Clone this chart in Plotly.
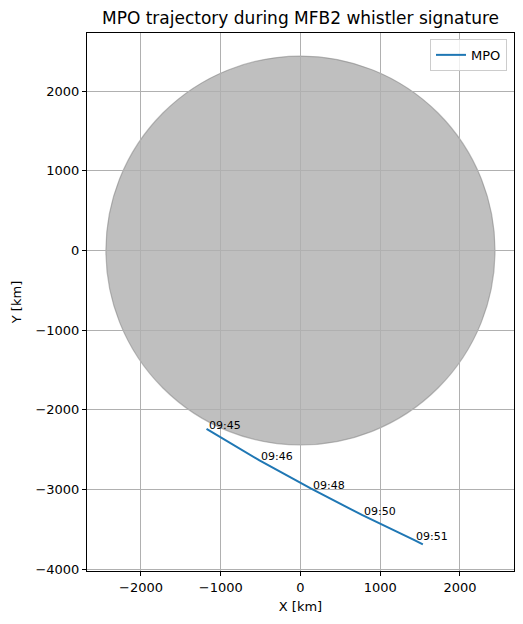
import plotly.graph_objects as go

# Data
mercury_radius_km = 2440
traj_x = [-1178, -514, 134, 777, 1429, 1535]
traj_y = [-2238, -2634, -2988, -3321, -3634, -3688]
label_times = ["09:45", "09:46", "09:48", "09:50", "09:51"]
label_x = [-1178, -514, 134, 777, 1429]
label_y = [-2238, -2634, -2988, -3321, -3634]
x_ticks = [-2000, -1000, 0, 1000, 2000]
y_ticks = [-4000, -3000, -2000, -1000, 0, 1000, 2000]

FONT = "DejaVu Sans"

fig = go.Figure()
fig.add_trace(go.Scatter(x=traj_x, y=traj_y, mode="lines", name="MPO",
                         line=dict(color="#1f77b4", width=2)))

fig.add_shape(type="circle", xref="x", yref="y",
              x0=-mercury_radius_km, y0=-mercury_radius_km,
              x1=mercury_radius_km, y1=mercury_radius_km,
              fillcolor="rgba(128,128,128,0.5)",
              line=dict(color="rgba(128,128,128,0.5)", width=1.2),
              layer="below")

for t, x, y in zip(label_times, label_x, label_y):
    fig.add_annotation(x=x, y=y, text=t, showarrow=False, xanchor="left",
                       yanchor="bottom", yshift=-5, xshift=0,
                       font=dict(family=FONT, size=11, color="black"))

axis_common = dict(showgrid=True, gridcolor="#b0b0b0", gridwidth=0.8,
                   showline=True, linecolor="black", linewidth=1, mirror=True,
                   ticks="outside", ticklen=4, tickcolor="black", zeroline=False,
                   tickfont=dict(family=FONT, size=13, color="black"))

fig.update_xaxes(range=[-2677, 2678], tickvals=x_ticks,
                 title=dict(text="X [km]", font=dict(family=FONT, size=13, color="black"), standoff=8),
                 **axis_common)
fig.update_yaxes(range=[-4021, 2729], tickvals=y_ticks,
                 title=dict(text="Y [km]", font=dict(family=FONT, size=13, color="black"), standoff=10),
                 **axis_common)

fig.update_layout(
    width=507, height=608,
    margin=dict(l=79, r=1, t=25, b=45),
    paper_bgcolor="white", plot_bgcolor="white",
    font=dict(family=FONT, color="black"),
    title=dict(text="MPO trajectory during MFB2 whistler signature",
               x=0.5, xref="paper", y=1 - 10 / 608, yanchor="middle",
               font=dict(family=FONT, size=17, color="black")),
    showlegend=True,
    legend=dict(x=0.9836, y=0.989, xanchor="right", yanchor="top",
                bgcolor="rgba(255,255,255,0.8)", bordercolor="#cccccc", borderwidth=1,
                font=dict(family=FONT, size=13, color="black")),
)

fig.write_html("out.html")
